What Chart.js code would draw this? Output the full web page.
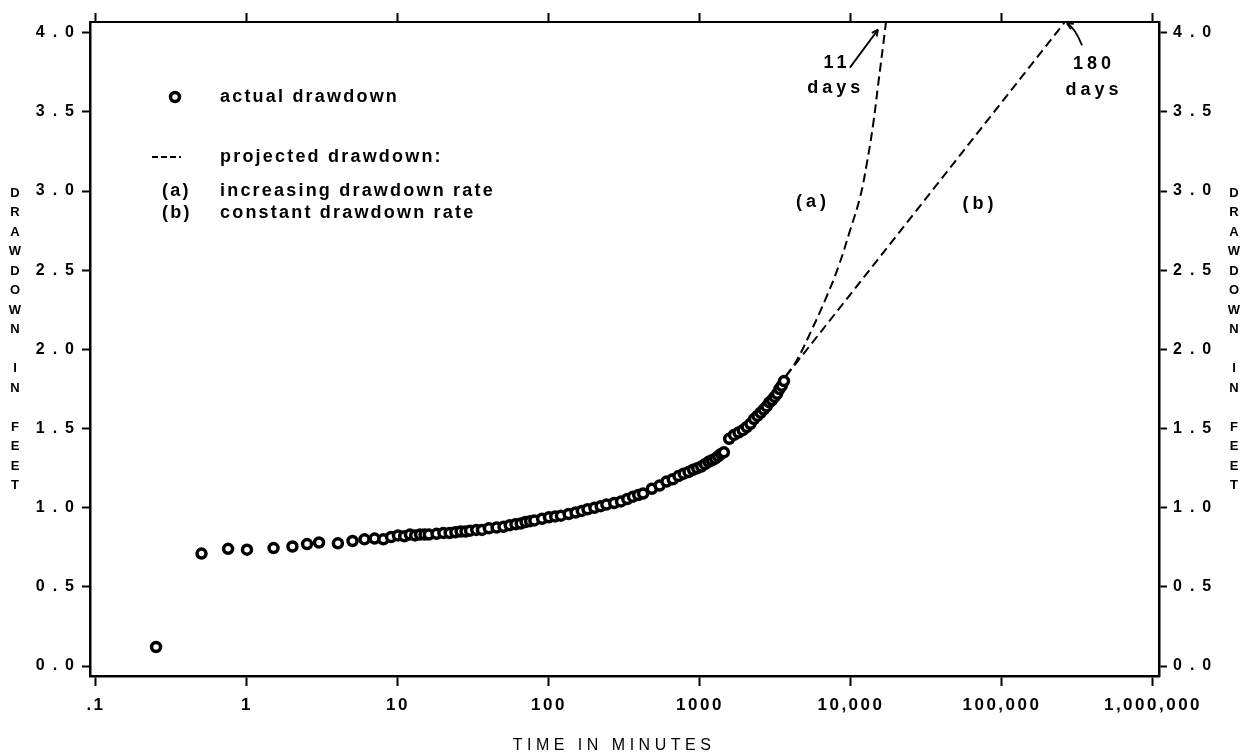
<!DOCTYPE html>
<html>
<head>
<meta charset="utf-8">
<script src="https://cdn.jsdelivr.net/npm/chart.js@4.4.0/dist/chart.umd.min.js"></script>
<style>
html,body{margin:0;padding:0;background:#fff;}
#wrap{width:1249px;height:756px;position:relative;}
</style>
</head>
<body>
<div id="wrap"><canvas id="c" width="1249" height="756"></canvas></div>
<script>
// ---- data ----
const timeMinutes = [0.25, 0.5, 0.75, 1, 1.5, 2, 2.5, 3, 4, 5, 6, 7, 8, 9, 10, 11, 12, 13, 14, 15, 16, 18, 20, 22, 24, 26, 28, 30, 33, 36, 40, 45, 50, 55, 60, 65, 70, 75, 80, 90, 100, 110, 120, 135, 150, 165, 180, 200, 220, 240, 270, 300, 330, 360, 390, 420, 480, 540, 600, 660, 720, 780, 840, 900, 960, 1020, 1080, 1140, 1200, 1260, 1320, 1380, 1440, 1560, 1680, 1800, 1920, 2040, 2160, 2280, 2400, 2520, 2640, 2760, 2880, 3000, 3120, 3240, 3360, 3480, 3600];
const drawdownFeet = [0.12, 0.71, 0.74, 0.735, 0.745, 0.755, 0.77, 0.78, 0.775, 0.79, 0.80, 0.805, 0.80, 0.815, 0.825, 0.82, 0.83, 0.825, 0.83, 0.83, 0.83, 0.835, 0.84, 0.84, 0.845, 0.85, 0.85, 0.855, 0.86, 0.86, 0.87, 0.875, 0.88, 0.89, 0.895, 0.90, 0.91, 0.915, 0.92, 0.93, 0.94, 0.945, 0.95, 0.96, 0.97, 0.98, 0.99, 1.0, 1.01, 1.02, 1.03, 1.04, 1.055, 1.07, 1.08, 1.09, 1.12, 1.14, 1.165, 1.18, 1.20, 1.215, 1.225, 1.24, 1.25, 1.26, 1.275, 1.29, 1.30, 1.31, 1.325, 1.34, 1.35, 1.435, 1.46, 1.475, 1.49, 1.51, 1.53, 1.56, 1.58, 1.60, 1.62, 1.64, 1.665, 1.68, 1.70, 1.72, 1.75, 1.77, 1.80];

// projected (a): increasing drawdown rate
const projATime = [3700, 4370, 5350, 6730, 8240, 9850, 11480, 12710, 14060, 15170, 16370, 17060];
const projADrawdown = [1.83, 1.93, 2.10, 2.31, 2.52, 2.75, 2.96, 3.17, 3.43, 3.68, 3.93, 4.07];
// projected (b): constant drawdown rate
const projBTime = [3700, 262000];
const projBDrawdown = [1.83, 4.07];

const xTickValues = [0.1, 1, 10, 100, 1000, 10000, 100000, 1000000];
const xTickLabels = ['.1', '1', '10', '100', '1000', '10,000', '100,000', '1,000,000'];
const yTickValues = [0, 0.5, 1, 1.5, 2, 2.5, 3, 3.5, 4];
const yTickLabels = ['0.0', '0.5', '1.0', '1.5', '2.0', '2.5', '3.0', '3.5', '4.0'];

const xTitle = 'TIME IN MINUTES';
const yTitle = 'DRAWDOWN IN FEET';
const legendActual = 'actual drawdown';
const legendProjected = 'projected drawdown:';
const legendA = ['(a)', 'increasing drawdown rate'];
const legendB = ['(b)', 'constant drawdown rate'];

// annotation texts anchored at data coordinates (minutes, feet)
const noteTexts = ['11', 'days', '180', 'days', '(a)', '(b)'];
const noteTimes = [7830, 7700, 394500, 394500, 5430, 69300];
const noteDrawdowns = [3.81, 3.65, 3.80, 3.64, 2.93, 2.92];

// axis extents
const xMin = 0.0913, xMax = 1.096e6;
const yMin = -0.063, yMax = 4.068;

const FONT = "'Liberation Sans', Arial, Helvetica, sans-serif";
const labelSpacing = { x: '2.5px', y: '8px', y2: '8px', x2: '0px' };

const spacingPlugin = {
  id: 'spacing',
  beforeDraw(chart) {
    Object.keys(chart.scales).forEach(id => {
      const s = chart.scales[id];
      if (s._lsWrapped) return;
      s._lsWrapped = true;
      const orig = s.drawLabels.bind(s);
      const ls = labelSpacing[id] || '0px';
      s.drawLabels = function (area) {
        const c = chart.ctx;
        c.save();
        c.letterSpacing = ls;
        orig(area);
        c.restore();
      };
    });
  }
};

const decorPlugin = {
  id: 'decor',
  afterDraw(chart) {
    const c = chart.ctx;
    const xs = chart.scales.x, ys = chart.scales.y;
    const P = (t, v) => [xs.getPixelForValue(t), ys.getPixelForValue(v)];
    c.save();
    c.fillStyle = '#000';
    c.strokeStyle = '#000';

    // stacked vertical titles
    c.font = 'bold 13px ' + FONT;
    c.textAlign = 'center';
    c.textBaseline = 'middle';
    for (let i = 0; i < yTitle.length; i++) {
      const ch = yTitle[i];
      if (ch === ' ') continue;
      const yy = 193 + i * 19.5;
      c.fillText(ch, 15, yy);
      c.fillText(ch, 1234, yy);
    }

    // x title
    c.font = '16px ' + FONT;
    c.letterSpacing = '4.5px';
    c.textAlign = 'center';
    c.fillText(xTitle, 614, 746);

    // legend
    c.letterSpacing = '2.2px';
    c.font = 'bold 18px ' + FONT;
    c.textAlign = 'left';
    c.textBaseline = 'middle';
    // marker
    c.beginPath();
    c.arc(175, 97, 4.5, 0, Math.PI * 2);
    c.fillStyle = '#fff';
    c.fill();
    c.lineWidth = 3.5;
    c.strokeStyle = '#000';
    c.stroke();
    c.fillStyle = '#000';
    c.fillText(legendActual, 220, 97);
    // dashed sample
    c.save();
    c.setLineDash([6, 3]);
    c.lineWidth = 2;
    c.beginPath();
    c.moveTo(152, 157);
    c.lineTo(181, 157);
    c.stroke();
    c.restore();
    c.fillText(legendProjected, 220, 157);
    c.fillText(legendA[0], 162, 191);
    c.fillText(legendA[1], 220, 191);
    c.fillText(legendB[0], 162, 213);
    c.fillText(legendB[1], 220, 213);

    // annotations
    c.letterSpacing = '4px';
    c.textAlign = 'center';
    c.font = 'bold 18px ' + FONT;
    for (let i = 0; i < noteTexts.length; i++) {
      const [px, py] = P(noteTimes[i], noteDrawdowns[i]);
      c.fillText(noteTexts[i], px + 2, py);
    }
    c.letterSpacing = '0px';

    // arrow for 11 days
    c.lineWidth = 1.8;
    let [ax, ay] = P(9840, 3.78);
    let [bx, by] = P(15100, 4.02);
    c.beginPath(); c.moveTo(ax, ay); c.lineTo(bx, by); c.stroke();
    drawHead(c, ax, ay, bx, by);
    // arrow for 180 days (curved)
    const [sx, sy] = P(338800, 3.92);
    const [qx, qy] = P(305000, 4.03);
    const [tx, ty] = P(269000, 4.06);
    c.beginPath(); c.moveTo(sx, sy); c.quadraticCurveTo(qx, qy, tx, ty); c.stroke();
    drawHead(c, qx, qy, tx, ty);
    c.restore();

    function drawHead(c, x0, y0, x1, y1) {
      const ang = Math.atan2(y1 - y0, x1 - x0);
      const L = 7, W = 0.45;
      c.beginPath();
      c.moveTo(x1, y1);
      c.lineTo(x1 - L * Math.cos(ang - W), y1 - L * Math.sin(ang - W));
      c.moveTo(x1, y1);
      c.lineTo(x1 - L * Math.cos(ang + W), y1 - L * Math.sin(ang + W));
      c.stroke();
    }
  }
};

const tickFontX = { family: FONT, size: 17, weight: 'bold' };
const tickFontY = { family: FONT, size: 16, weight: 'bold' };

new Chart(document.getElementById('c').getContext('2d'), {
  type: 'scatter',
  data: {
    datasets: [
      {
        label: legendActual,
        data: timeMinutes.map((t, i) => ({ x: t, y: drawdownFeet[i] })),
        showLine: false,
        pointRadius: 4.5,
        pointBorderWidth: 3.5,
        pointBackgroundColor: '#fff',
        pointBorderColor: '#000',
        order: 0
      },
      {
        label: legendA[1],
        data: projATime.map((t, i) => ({ x: t, y: projADrawdown[i] })),
        showLine: true,
        borderColor: '#000',
        borderWidth: 2,
        borderDash: [9, 5],
        pointRadius: 0,
        tension: 0.4,
        fill: false,
        order: 1
      },
      {
        label: legendB[1],
        data: projBTime.map((t, i) => ({ x: t, y: projBDrawdown[i] })),
        showLine: true,
        borderColor: '#000',
        borderWidth: 2,
        borderDash: [9, 5],
        pointRadius: 0,
        fill: false,
        order: 2
      }
    ]
  },
  options: {
    responsive: false,
    animation: false,
    events: [],
    layout: { padding: 0 },
    plugins: { legend: { display: false }, tooltip: { enabled: false }, title: { display: false } },
    scales: {
      x: {
        type: 'logarithmic', position: 'bottom', min: xMin, max: xMax,
        afterBuildTicks: s => { s.ticks = xTickValues.map(v => ({ value: v })); },
        afterFit: s => { s.height = 80; },
        ticks: {
          autoSkip: false, maxRotation: 0, minRotation: 0, color: '#000', font: tickFontX, padding: 9,
          callback: v => xTickLabels[xTickValues.indexOf(v)]
        },
        grid: { drawOnChartArea: false, drawTicks: true, tickLength: 10, tickWidth: 2, tickColor: '#000' },
        border: { display: true, color: '#000', width: 2.5 }
      },
      x2: {
        type: 'logarithmic', position: 'top', min: xMin, max: xMax,
        afterBuildTicks: s => { s.ticks = xTickValues.map(v => ({ value: v })); },
        afterFit: s => { s.height = 22; },
        ticks: { display: false },
        grid: { drawOnChartArea: false, drawTicks: true, tickLength: 9, tickWidth: 2, tickColor: '#000' },
        border: { display: true, color: '#000', width: 2 }
      },
      y: {
        type: 'linear', position: 'left', min: yMin, max: yMax,
        afterBuildTicks: s => { s.ticks = yTickValues.map(v => ({ value: v })); },
        afterFit: s => { s.width = 90; },
        ticks: { color: '#000', font: tickFontY, padding: 0, callback: v => yTickLabels[yTickValues.indexOf(v)] },
        grid: { drawOnChartArea: false, drawTicks: true, tickLength: 8, tickWidth: 2, tickColor: '#000' },
        border: { display: true, color: '#000', width: 2.5 }
      },
      y2: {
        type: 'linear', position: 'right', min: yMin, max: yMax,
        afterBuildTicks: s => { s.ticks = yTickValues.map(v => ({ value: v })); },
        afterFit: s => { s.width = 90; },
        ticks: { color: '#000', font: tickFontY, padding: 6, callback: v => yTickLabels[yTickValues.indexOf(v)] },
        grid: { drawOnChartArea: false, drawTicks: true, tickLength: 8, tickWidth: 2, tickColor: '#000' },
        border: { display: true, color: '#000', width: 2.5 }
      }
    }
  },
  plugins: [spacingPlugin, decorPlugin]
});
</script>
</body>
</html>
